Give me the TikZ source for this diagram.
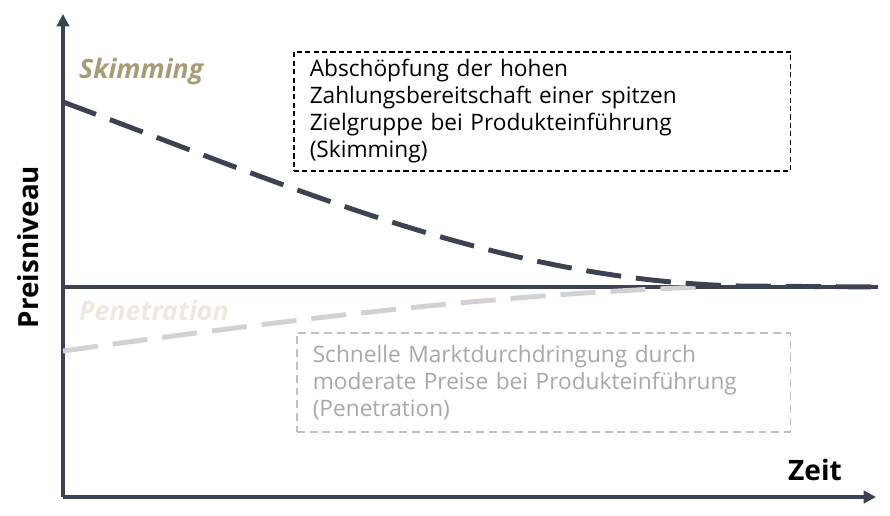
\documentclass[tikz,border=0pt]{standalone}
\usepackage{fontspec}
\setmainfont{Open Sans}
\usetikzlibrary{arrows.meta,positioning}

\definecolor{axisgray}{RGB}{59,66,82}
\definecolor{skimgold}{RGB}{168,156,118}
\definecolor{penebeige}{RGB}{236,233,223}
\definecolor{penegray}{RGB}{210,210,214}
\definecolor{boxgray}{RGB}{192,192,192}
\definecolor{textgray}{RGB}{168,168,168}

\begin{document}
\begin{tikzpicture}[x=0.02cm,y=-0.02cm,
  axis/.style={axisgray,line width=2.3pt,-{Triangle[width=7pt,length=7pt]}},
  curve/.style={line width=2.8pt,dash pattern=on 20pt off 8.5pt},
  infobox/.style={draw,line width=0.9pt,anchor=north west,align=left,inner xsep=0.32cm,
    font=\fontsize{12.9}{15.4}\selectfont},
  tag/.style={font=\fontsize{15.2}{17}\selectfont\bfseries\itshape,anchor=base west}]

\useasboundingbox (0,0) rectangle (890,515);

\coordinate (O) at (63,497);
\coordinate (Ytop) at (63,14);
\coordinate (Xend) at (876,497);

\draw[axis] (O) -- (Ytop);
\draw[axis] (O) -- (Xend);

\node[rotate=90,font=\fontsize{15.8}{18}\selectfont\bfseries] (preis) at (28,247) {Preisniveau};
\node[font=\fontsize{16}{18}\selectfont\bfseries,anchor=base west] (zeit) at (782,480) {Zeit};

% Referenzlinie
\coordinate (L0) at (63,287);
\coordinate (L1) at (878,287);
\draw[axisgray,line width=2.3pt] (L0) -- (L1);

% Penetration
\coordinate (P0) at (63,351);
\coordinate (P1) at (705,287);
\draw[curve,penegray] (P0) .. controls (300,318) and (500,294) .. (P1);
\node[tag,text=penebeige] (penetxt) at (73,320) {Penetration};

% Skimming
\coordinate (S0) at (63,102);
\coordinate (S1) at (740,286);
\draw[curve,axisgray] (S0) .. controls (300,190) and (500,280) .. (S1) -- (L1);
\node[tag,text=skimgold] (skimtxt) at (73,78) {Skimming};

\node[infobox,dash pattern=on 2.9pt off 1.9pt,text width=9.3cm,minimum height=2.38cm] (skimbox) at (293,51)
  {Abschöpfung der hohen\\Zahlungsbereitschaft einer spitzen\\Zielgruppe bei Produkteinführung\\(Skimming)};

\node[infobox,draw=boxgray,text=textgray,dash pattern=on 4.5pt off 2.8pt,text width=9.24cm,minimum height=1.98cm] (penebox) at (296,332)
  {Schnelle Marktdurchdringung durch\\moderate Preise bei Produkteinführung\\(Penetration)};

\end{tikzpicture}
\end{document}
